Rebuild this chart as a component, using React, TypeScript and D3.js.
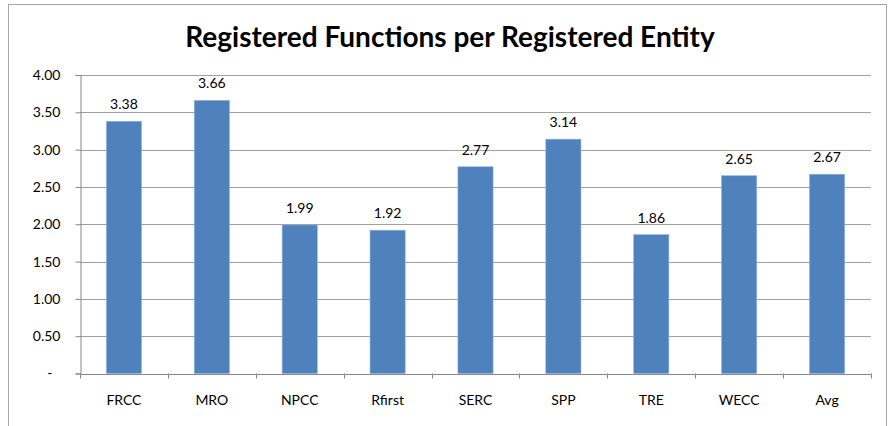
import React, { useEffect, useRef } from "react";
import * as d3 from "d3";

const categories = ["FRCC", "MRO", "NPCC", "Rfirst", "SERC", "SPP", "TRE", "WECC", "Avg"];
const values = [3.38, 3.66, 1.99, 1.92, 2.77, 3.14, 1.86, 2.65, 2.67];
const yTicks = [0, 0.5, 1, 1.5, 2, 2.5, 3, 3.5, 4];
const title = "Registered Functions per Registered Entity";

const W = 889;
const H = 426;
const FONT = "Lato, 'Open Sans', sans-serif";

export default function App() {
  const ref = useRef<SVGSVGElement>(null);

  useEffect(() => {
    const svg = d3.select(ref.current);
    svg.selectAll("*").remove();

    const left = 80, right = 871, top = 75, bottom = 373.5;

    // outer chart border
    svg.append("rect")
      .attr("x", 8.5).attr("y", 4.5)
      .attr("width", 878).attr("height", 430)
      .attr("fill", "#fff").attr("stroke", "#a6a6a6");

    svg.append("text")
      .attr("x", 450).attr("y", 47)
      .attr("text-anchor", "middle")
      .attr("font-family", FONT).attr("font-weight", "bold")
      .attr("font-size", 28).attr("fill", "#000")
      .text(title);

    const x = d3.scaleBand().domain(categories).range([left, right]).paddingInner(0.6).paddingOuter(0.3);
    const y = d3.scaleLinear().domain([0, 4]).range([bottom, top]);

    // gridlines
    svg.append("g").selectAll("line")
      .data(yTicks.filter(t => t > 0))
      .join("line")
      .attr("x1", left).attr("x2", right)
      .attr("y1", d => Math.round(y(d)) + 0.5).attr("y2", d => Math.round(y(d)) + 0.5)
      .attr("stroke", "#a0a0a0");

    // y axis
    const yAxis = svg.append("g")
      .attr("transform", `translate(${left + 0.5},0)`)
      .call(d3.axisLeft(y).tickValues(yTicks).tickSize(5).tickPadding(15)
        .tickFormat(d => (+d === 0 ? "-" : d3.format(".2f")(+d))));
    yAxis.select(".domain").attr("stroke", "#868686");
    yAxis.selectAll(".tick line").attr("stroke", "#868686");
    yAxis.selectAll(".tick text").attr("font-family", FONT).attr("font-size", 14).attr("fill", "#000");
    yAxis.selectAll(".tick")
      .filter(d => +d === 0)
      .select("text").attr("dx", -8);

    // bars
    svg.append("g").selectAll("rect")
      .data(categories)
      .join("rect")
      .attr("x", d => x(d)!)
      .attr("y", (d, i) => y(values[i]))
      .attr("width", x.bandwidth())
      .attr("height", (d, i) => bottom - y(values[i]))
      .attr("fill", "#4f81bd")
      .attr("stroke", "#8fb1dc").attr("stroke-width", 0.6);

    // value labels
    svg.append("g").selectAll("text")
      .data(categories)
      .join("text")
      .attr("x", d => x(d)! + x.bandwidth() / 2)
      .attr("y", (d, i) => y(values[i]) - 12)
      .attr("text-anchor", "middle")
      .attr("font-family", FONT).attr("font-size", 14).attr("fill", "#000")
      .text((d, i) => values[i].toFixed(2));

    // x axis baseline with ticks between categories
    const step = (right - left) / categories.length;
    const g = svg.append("g");
    g.append("line")
      .attr("x1", left).attr("x2", right)
      .attr("y1", Math.round(bottom) + 0.5).attr("y2", Math.round(bottom) + 0.5)
      .attr("stroke", "#868686");
    g.selectAll("line.tk")
      .data(d3.range(categories.length + 1))
      .join("line")
      .attr("class", "tk")
      .attr("x1", i => Math.round(left + i * step) + 0.5).attr("x2", i => Math.round(left + i * step) + 0.5)
      .attr("y1", bottom).attr("y2", bottom + 5)
      .attr("stroke", "#868686");
    g.selectAll("text")
      .data(categories)
      .join("text")
      .attr("x", d => x(d)! + x.bandwidth() / 2)
      .attr("y", 405)
      .attr("text-anchor", "middle")
      .attr("font-family", FONT).attr("font-size", 14).attr("fill", "#000")
      .text(d => d);
  }, []);

  return (
    <svg ref={ref} width={W} height={H} style={{ position: "absolute", left: 0, top: 0 }} />
  );
}
